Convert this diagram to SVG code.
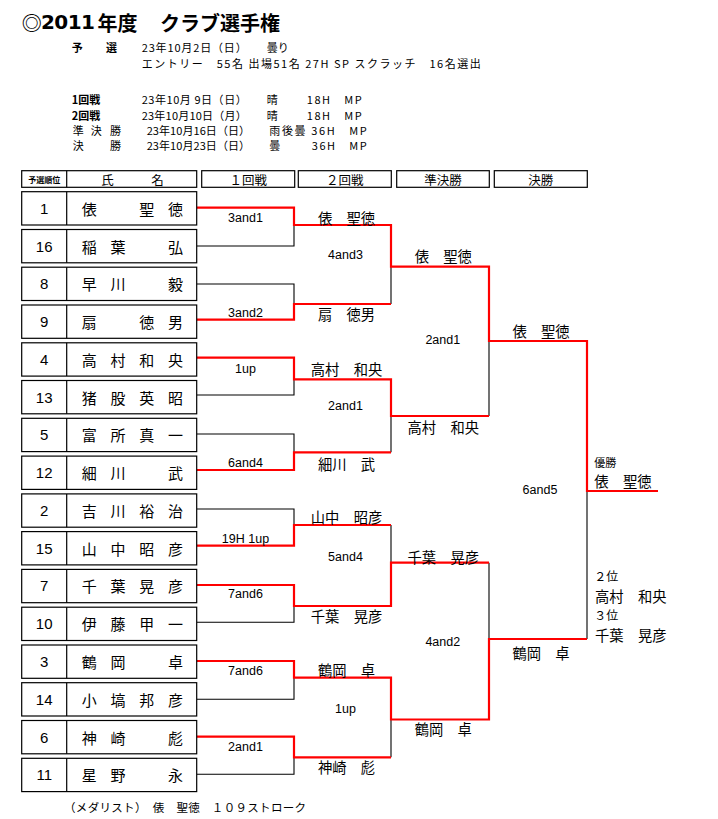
<svg xmlns="http://www.w3.org/2000/svg" width="718" height="819" viewBox="0 0 718 819">
<style>
.bg{fill:#fff}
.cell{fill:#fff;stroke:#000;stroke-width:1.2}
.div{stroke:#000;stroke-width:1.2}
.jp{font-family:"Noto Sans CJK JP","Liberation Sans",sans-serif;fill:#000;dominant-baseline:central}
.la{font-family:"Liberation Sans",Arial,sans-serif;fill:#000;dominant-baseline:central}
.nm{font-size:15px;text-anchor:middle}
.rk{font-size:15px;text-anchor:middle}
.hd{font-size:12.5px;text-anchor:middle}
.sc{font-size:12.5px;text-anchor:middle}
.wn{font-size:14.3px;text-anchor:middle}
.info{font-size:11px}
.b{font-weight:bold}
.lose{fill:none;stroke:#000;stroke-width:1.1}
.win{fill:none;stroke:#f00;stroke-width:2.2;stroke-linejoin:miter}
</style>
<rect class="bg" x="0" y="0" width="718" height="819"/>

<g id="title">
<text class="jp b" y="21.7" font-size="20"><tspan x="21.7">◎</tspan><tspan x="41" font-family="DejaVu Sans" textLength="54">2011</tspan><tspan x="97.5">年度</tspan><tspan x="160">クラブ選手権</tspan></text>
</g>

<g id="info">
<text class="jp info b" x="71.7 106" y="46.5" font-size="12">予選</text>
<text class="jp info" x="141.7" y="46.5" textLength="105">23年10月2日（日）</text>
<text class="jp info" x="266.7" y="46.5">曇り</text>
<text class="jp info" x="141.7" y="63.3" textLength="339">エントリー　55名 出場51名 27H SP スクラッチ　16名選出</text>
<text class="jp info b" x="71.7" y="99" font-size="12">1回戦</text>
<text class="jp info" x="141.7" y="99" textLength="105">23年10月&#160;9日（日）</text>
<text class="jp info" x="266.7" y="99">晴</text>
<text class="jp info" x="306.7" y="99" textLength="55">18H　MP</text>
<text class="jp info b" x="71.7" y="114.5" font-size="12">2回戦</text>
<text class="jp info" x="141.7" y="114.5" textLength="105">23年10月10日（月）</text>
<text class="jp info" x="266.7" y="114.5">晴</text>
<text class="jp info" x="306.7" y="114.5" textLength="55">18H　MP</text>
<text class="jp info" x="72.7 90.7 110" y="129.5">準決勝</text>
<text class="jp info" x="146.7" y="129.5" textLength="103.3">23年10月16日（日）</text>
<text class="jp info" x="269.3" y="129.5" textLength="97.4">雨後曇 36H　MP</text>
<text class="jp info" x="72.7 110" y="145">決勝</text>
<text class="jp info" x="146.7" y="145" textLength="103.3">23年10月23日（日）</text>
<text class="jp info" x="269.3" y="145">曇</text>
<text class="jp info" x="311.7" y="145" textLength="55">36H　MP</text>
</g>

<g id="header">
<rect class="cell" x="21.7" y="170.7" width="175" height="16.6"/>
<line class="div" x1="66.7" y1="170.7" x2="66.7" y2="187.3"/>
<text class="jp b" x="44.2" y="179" font-size="8" text-anchor="middle">予選順位</text>
<text class="jp" x="107.5 157.5" y="179" font-size="12.5" text-anchor="middle">氏名</text>
<rect class="cell" x="201.7" y="170.7" width="93" height="16.6"/>
<text class="jp hd" x="248.2" y="179">１回戦</text>
<rect class="cell" x="298.3" y="170.7" width="93" height="16.6"/>
<text class="jp hd" x="344.8" y="179">２回戦</text>
<rect class="cell" x="396.7" y="170.7" width="92.6" height="16.6"/>
<text class="jp hd" x="443" y="179">準決勝</text>
<rect class="cell" x="494.3" y="170.7" width="93" height="16.6"/>
<text class="jp hd" x="540.8" y="179">決勝</text>
</g>

<g id="connectors">
<path class="lose" d="M197,246H294V225 M197,284H294V304 M197,395H294V379.3 M197,434H294V452.3 M197,509H294V525 M197,622.3H294V606 M197,699.3H294V677.7 M197,774.3H294V757.3 M391,304V266.7 M391,452.3V416 M391,525V562.7 M391,757.3V719.5 M489,416V341 M489,562.7V639 M587,639V491"/>
<path class="win" d="M197,207.7H294V225H391V266.7H489V341H587V491H658"/>
<path class="win" d="M197,319.7H294V304H391"/>
<path class="win" d="M197,357.7H294V379.3H391V416H489"/>
<path class="win" d="M197,470H294V452.3H391"/>
<path class="win" d="M197,545.7H294V525H391"/>
<path class="win" d="M197,585H294V606H391V562.7H489"/>
<path class="win" d="M197,661H294V677.7H391V719.5H489V639H587"/>
<path class="win" d="M197,736.7H294V757.3H391"/>
</g>

<g id="row-1" transform="translate(0,191.7)"><rect class="cell" x="21.7" y="0" width="175" height="33.3"/><line class="div" x1="66.7" y1="0" x2="66.7" y2="33.3"/><text class="la rk" x="44.2" y="16.6">1</text><text class="jp nm" x="89.3 146.8 175.5" y="16.6">俵聖徳</text></g>
<g id="row-2" transform="translate(0,229.5)"><rect class="cell" x="21.7" y="0" width="175" height="33.3"/><line class="div" x1="66.7" y1="0" x2="66.7" y2="33.3"/><text class="la rk" x="44.2" y="16.6">16</text><text class="jp nm" x="89.3 118 175.5" y="16.6">稲葉弘</text></g>
<g id="row-3" transform="translate(0,267.2)"><rect class="cell" x="21.7" y="0" width="175" height="33.3"/><line class="div" x1="66.7" y1="0" x2="66.7" y2="33.3"/><text class="la rk" x="44.2" y="16.6">8</text><text class="jp nm" x="89.3 118 175.5" y="16.6">早川毅</text></g>
<g id="row-4" transform="translate(0,305)"><rect class="cell" x="21.7" y="0" width="175" height="33.3"/><line class="div" x1="66.7" y1="0" x2="66.7" y2="33.3"/><text class="la rk" x="44.2" y="16.6">9</text><text class="jp nm" x="89.3 146.8 175.5" y="16.6">扇徳男</text></g>
<g id="row-5" transform="translate(0,342.8)"><rect class="cell" x="21.7" y="0" width="175" height="33.3"/><line class="div" x1="66.7" y1="0" x2="66.7" y2="33.3"/><text class="la rk" x="44.2" y="16.6">4</text><text class="jp nm" x="89.3 118 146.8 175.5" y="16.6">高村和央</text></g>
<g id="row-6" transform="translate(0,380.5)"><rect class="cell" x="21.7" y="0" width="175" height="33.3"/><line class="div" x1="66.7" y1="0" x2="66.7" y2="33.3"/><text class="la rk" x="44.2" y="16.6">13</text><text class="jp nm" x="89.3 118 146.8 175.5" y="16.6">猪股英昭</text></g>
<g id="row-7" transform="translate(0,418.3)"><rect class="cell" x="21.7" y="0" width="175" height="33.3"/><line class="div" x1="66.7" y1="0" x2="66.7" y2="33.3"/><text class="la rk" x="44.2" y="16.6">5</text><text class="jp nm" x="89.3 118 146.8 175.5" y="16.6">富所真一</text></g>
<g id="row-8" transform="translate(0,456.1)"><rect class="cell" x="21.7" y="0" width="175" height="33.3"/><line class="div" x1="66.7" y1="0" x2="66.7" y2="33.3"/><text class="la rk" x="44.2" y="16.6">12</text><text class="jp nm" x="89.3 118 175.5" y="16.6">細川武</text></g>
<g id="row-9" transform="translate(0,493.9)"><rect class="cell" x="21.7" y="0" width="175" height="33.3"/><line class="div" x1="66.7" y1="0" x2="66.7" y2="33.3"/><text class="la rk" x="44.2" y="16.6">2</text><text class="jp nm" x="89.3 118 146.8 175.5" y="16.6">吉川裕治</text></g>
<g id="row-10" transform="translate(0,531.6)"><rect class="cell" x="21.7" y="0" width="175" height="33.3"/><line class="div" x1="66.7" y1="0" x2="66.7" y2="33.3"/><text class="la rk" x="44.2" y="16.6">15</text><text class="jp nm" x="89.3 118 146.8 175.5" y="16.6">山中昭彦</text></g>
<g id="row-11" transform="translate(0,569.4)"><rect class="cell" x="21.7" y="0" width="175" height="33.3"/><line class="div" x1="66.7" y1="0" x2="66.7" y2="33.3"/><text class="la rk" x="44.2" y="16.6">7</text><text class="jp nm" x="89.3 118 146.8 175.5" y="16.6">千葉晃彦</text></g>
<g id="row-12" transform="translate(0,607.2)"><rect class="cell" x="21.7" y="0" width="175" height="33.3"/><line class="div" x1="66.7" y1="0" x2="66.7" y2="33.3"/><text class="la rk" x="44.2" y="16.6">10</text><text class="jp nm" x="89.3 118 146.8 175.5" y="16.6">伊藤甲一</text></g>
<g id="row-13" transform="translate(0,645)"><rect class="cell" x="21.7" y="0" width="175" height="33.3"/><line class="div" x1="66.7" y1="0" x2="66.7" y2="33.3"/><text class="la rk" x="44.2" y="16.6">3</text><text class="jp nm" x="89.3 118 175.5" y="16.6">鶴岡卓</text></g>
<g id="row-14" transform="translate(0,682.7)"><rect class="cell" x="21.7" y="0" width="175" height="33.3"/><line class="div" x1="66.7" y1="0" x2="66.7" y2="33.3"/><text class="la rk" x="44.2" y="16.6">14</text><text class="jp nm" x="89.3 118 146.8 175.5" y="16.6">小塙邦彦</text></g>
<g id="row-15" transform="translate(0,720.5)"><rect class="cell" x="21.7" y="0" width="175" height="33.3"/><line class="div" x1="66.7" y1="0" x2="66.7" y2="33.3"/><text class="la rk" x="44.2" y="16.6">6</text><text class="jp nm" x="89.3 118 175.5" y="16.6">神崎彪</text></g>
<g id="row-16" transform="translate(0,758.3)"><rect class="cell" x="21.7" y="0" width="175" height="33.3"/><line class="div" x1="66.7" y1="0" x2="66.7" y2="33.3"/><text class="la rk" x="44.2" y="16.6">11</text><text class="jp nm" x="89.3 118 175.5" y="16.6">星野永</text></g>

<g id="round1-scores">
<text class="la sc" x="245.5" y="218.3">3and1</text>
<text class="la sc" x="245.5" y="313.3">3and2</text>
<text class="la sc" x="245.5" y="369">1up</text>
<text class="la sc" x="245.5" y="463.3">6and4</text>
<text class="la sc" x="245.5" y="539.3">19H 1up</text>
<text class="la sc" x="245.5" y="594">7and6</text>
<text class="la sc" x="245.5" y="670.7">7and6</text>
<text class="la sc" x="245.5" y="746.7">2and1</text>
</g>

<g id="round2">
<text class="jp wn" x="346.5" y="217.7">俵　聖徳</text>
<text class="la sc" x="345.5" y="255.3">4and3</text>
<text class="jp wn" x="346.5" y="313.3">扇　徳男</text>
<text class="jp wn" x="346.5" y="368.3">高村　和央</text>
<text class="la sc" x="345.5" y="406">2and1</text>
<text class="jp wn" x="346.5" y="463.3">細川　武</text>
<text class="jp wn" x="346.5" y="516.7">山中　昭彦</text>
<text class="la sc" x="345.5" y="556.7">5and4</text>
<text class="jp wn" x="346.5" y="615">千葉　晃彦</text>
<text class="jp wn" x="346.5" y="669.3">鶴岡　卓</text>
<text class="la sc" x="345.5" y="708.7">1up</text>
<text class="jp wn" x="346.5" y="766.7">神崎　彪</text>
</g>

<g id="semifinal">
<text class="jp wn" x="443.3" y="255">俵　聖徳</text>
<text class="la sc" x="442.8" y="340">2and1</text>
<text class="jp wn" x="443.3" y="426.7">高村　和央</text>
<text class="jp wn" x="443.3" y="556.7">千葉　晃彦</text>
<text class="la sc" x="442.8" y="642.3">4and2</text>
<text class="jp wn" x="443.3" y="728.3">鶴岡　卓</text>
</g>

<g id="final">
<text class="jp wn" x="541" y="330">俵　聖徳</text>
<text class="la sc" x="540" y="490">6and5</text>
<text class="jp wn" x="541" y="652.3">鶴岡　卓</text>
</g>

<g id="results">
<text class="jp" x="594.3" y="461.5" font-size="11">優勝</text>
<text class="jp" x="594.3" y="480.5" font-size="14.3">俵　聖徳</text>
<text class="jp" x="594.3" y="575.5" font-size="12">２位</text>
<text class="jp" x="595" y="595" font-size="14.3">高村　和央</text>
<text class="jp" x="594.3" y="614.5" font-size="12">３位</text>
<text class="jp" x="595" y="634" font-size="14.3">千葉　晃彦</text>
</g>

<g id="medalist">
<text class="jp" x="64" y="806.7" font-size="11.5" textLength="242">（メダリスト）　俵　聖徳　１０９ストローク</text>
</g>
</svg>
